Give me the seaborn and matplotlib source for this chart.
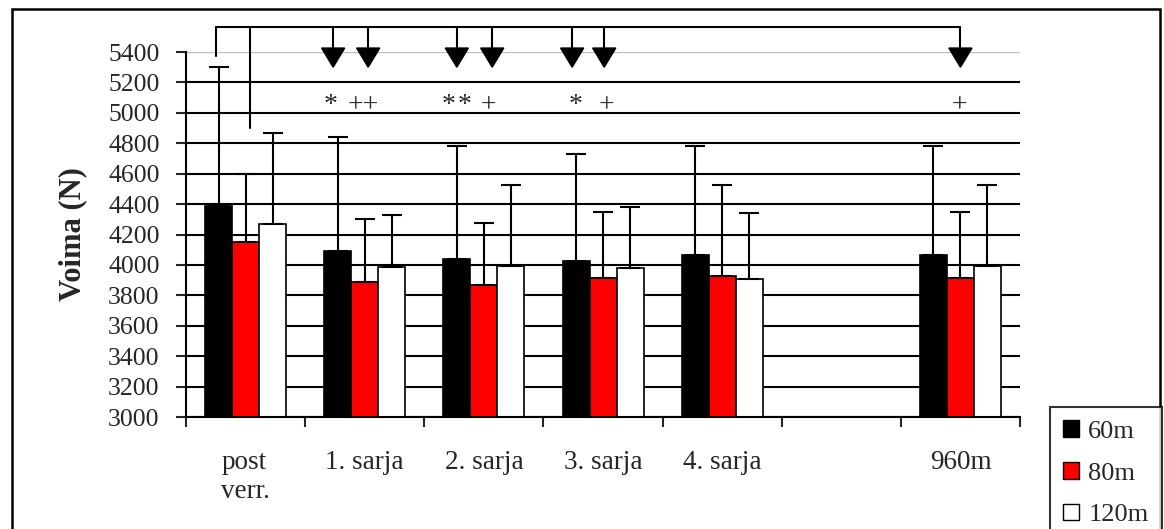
import numpy as np
import pandas as pd
import seaborn as sns
import matplotlib.pyplot as plt
from matplotlib.patches import Patch, Rectangle

# kategoriat ja sarjat
kategoriat = ["post\nverr.", "1. sarja", "2. sarja", "3. sarja", "4. sarja", "", "960m"]
matkat = ["60m", "80m", "120m"]
varit = ["black", "#ff0000", "white"]

# keskiarvot (N), tyhja sarake ilman arvoja
voima_60 = [4390, 4090, 4040, 4025, 4065, None, 4065]
voima_80 = [4150, 3890, 3865, 3915, 3930, None, 3915]
voima_120 = [4270, 3985, 3995, 3980, 3905, None, 3995]
# keskihajonnat (vain ylospain)
sd_60 = [910, 750, 745, 705, 720, None, 720]
sd_80 = [450, 410, 410, 435, 595, None, 435]
sd_120 = [595, 340, 530, 400, 435, None, 530]

# merkitsevyysmerkit
merkit = ["*", "++", "*", "*", "+", "*", "+", "+"]
merkit_x = [0.71, 0.99, 1.70, 1.835, 2.035, 2.767, 3.027, 5.99]
nuolet_x = [0.735, 1.029, 1.773, 2.07, 2.741, 3.01, 6.0]

rivit = []
for m, arvot, sdt in zip(matkat, [voima_60, voima_80, voima_120], [sd_60, sd_80, sd_120]):
    for k, v, s in zip(kategoriat, arvot, sdt):
        if v is not None:
            rivit.append({"kategoria": k, "matka": m, "voima": v, "sd": s})
df = pd.DataFrame(rivit)

sns.set_style("white")
plt.rcParams["font.family"] = ["Liberation Serif", "DejaVu Serif"]

fig = plt.figure(figsize=(11.64, 5.29), dpi=100)
ax = fig.add_axes([0.1598, 0.2117, 0.7165, 0.69])

sns.barplot(data=df, x="kategoria", y="voima", hue="matka", order=kategoriat,
            hue_order=matkat, palette=varit, saturation=1, width=0.68,
            edgecolor="black", linewidth=1.2, errorbar=None, legend=False, ax=ax)

# virhepalkit
sd_taulu = {(r.kategoria, r.matka): r.sd for r in df.itertuples()}
for m, cont in zip(matkat, ax.containers):
    for bar in cont:
        h = bar.get_height()
        if np.isnan(h):
            continue
        cx = bar.get_x() + bar.get_width() / 2
        k = kategoriat[int(round(cx))]
        ax.errorbar(cx, h, yerr=[[0], [sd_taulu[(k, m)]]], color="black",
                    lw=1.5, capsize=7, capthick=1.5, zorder=3)

ax.set_ylim(3000, 5400)
ax.set_xlim(-0.5, 6.5)
ax.set_yticks(np.arange(3000, 5401, 200))
ax.set_xticks(np.arange(-0.5, 7, 1))
ax.set_xticklabels([])
ax.set_xticks(np.arange(7), minor=True)
ax.set_xticklabels(kategoriat, minor=True, fontsize=19.5, ha="center", va="top")
for lab in ax.get_xticklabels(minor=True):
    lab.set_multialignment("left")
ax.tick_params(axis="x", which="minor", length=0, pad=24)
ax.tick_params(axis="x", which="major", length=7, width=1.5, direction="out", bottom=True)
ax.tick_params(axis="y", length=7, width=1.5, direction="out", left=True,
               labelsize=18.5, pad=12)
ax.set_xlabel("")
ax.set_ylabel("Voima (N)", fontsize=22, fontweight="bold", labelpad=15)

ax.set_axisbelow(True)
ax.grid(axis="y", color="black", lw=1.5)
ax.grid(axis="x", visible=False)
ax.yaxis.get_gridlines()[-1].set_color("#c0c0c0")
ax.yaxis.get_gridlines()[-1].set_linewidth(1)
for s in ["top", "right"]:
    ax.spines[s].set_visible(False)
for s in ["left", "bottom"]:
    ax.spines[s].set_color("black")
    ax.spines[s].set_linewidth(1.5)

# yhdistava sulkuviiva ja nuolet
ylin = 5564
ax.plot([-0.248, 6.0], [ylin, ylin], color="black", lw=1.5, clip_on=False)
ax.plot([-0.248, -0.248], [ylin, 5374], color="black", lw=1.5, clip_on=False)
ax.plot([0.038, 0.038], [ylin, 4900], color="black", lw=1.5, clip_on=False)
for x in nuolet_x:
    ax.plot([x, x], [ylin, 5426], color="black", lw=1.5, clip_on=False)
    ax.fill([x - 0.097, x + 0.097, x], [5426, 5426, 5300], color="black",
            clip_on=False, zorder=4)
for t, x in zip(merkit, merkit_x):
    ax.text(x, 5005, t, ha="center", va="baseline", fontsize=20)

# selite
kahvat = [Patch(facecolor=c, edgecolor="black", lw=1) for c in varit]
leg = fig.legend(kahvat, matkat, loc="upper left", bbox_to_anchor=(0.902, 0.2306),
                 borderaxespad=0, fontsize=19, frameon=True, fancybox=False,
                 handlelength=0.6, handleheight=0.6, handletextpad=0.35,
                 labelspacing=0.72, borderpad=0.5)
leg.get_frame().set_edgecolor("black")
leg.get_frame().set_linewidth(1.5)

# kehys
fig.add_artist(Rectangle((12 / 1164, -0.1), 1148 / 1164, 1.083, transform=fig.transFigure,
                         fill=False, lw=1.8, edgecolor="black"))

fig.savefig("out.png", dpi=100)
